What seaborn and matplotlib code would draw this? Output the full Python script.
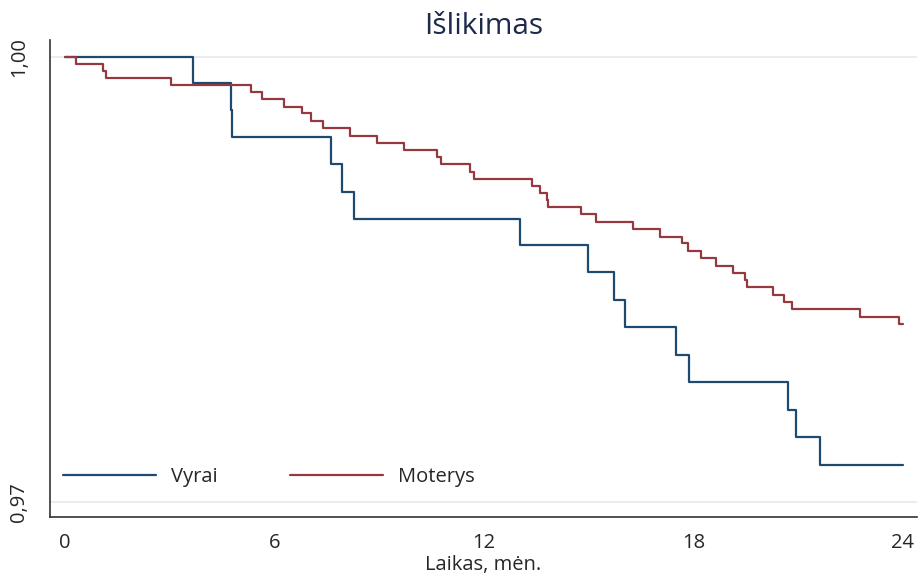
import matplotlib
matplotlib.use("Agg")
import matplotlib.pyplot as plt
import seaborn as sns
import pandas as pd
from matplotlib import font_manager

# ---- data ----
vyrai_t = [0, 3.68, 4.75, 4.79, 7.62, 7.95, 8.28, 13.04, 14.98, 15.72, 16.05,
           17.51, 17.89, 20.71, 20.95, 21.63, 24]
vyrai_s = [1.0, 0.9982, 0.9964, 0.9946, 0.9928, 0.9909, 0.9891, 0.9873, 0.9855,
           0.9836, 0.9818, 0.9799, 0.9781, 0.9762, 0.9744, 0.9725, 0.9725]

moterys_t = [0, 0.31, 1.08, 1.17, 3.03, 5.33, 5.65, 6.26, 6.78, 7.04, 7.39, 8.16,
             8.95, 9.70, 10.67, 10.77, 11.60, 11.72, 13.37, 13.61, 13.80, 13.85,
             14.79, 15.20, 16.28, 17.04, 17.69, 17.85, 18.22, 18.64, 19.13, 19.48,
             19.53, 20.27, 20.60, 20.82, 22.79, 23.88, 24]
moterys_s = [1.0, 0.99953, 0.99904, 0.99857, 0.99809, 0.99762, 0.99713, 0.99663,
             0.99619, 0.99570, 0.99520, 0.99469, 0.99420, 0.99372, 0.99325, 0.99276,
             0.99226, 0.99179, 0.99129, 0.99080, 0.99035, 0.98986, 0.98938, 0.98885,
             0.98837, 0.98788, 0.98744, 0.98690, 0.98643, 0.98593, 0.98546, 0.98497,
             0.98449, 0.98398, 0.98350, 0.98299, 0.98250, 0.98202, 0.98202]

groups = ["Vyrai", "Moterys"]
colors = {"Vyrai": "#1f4a70", "Moterys": "#94393f"}
x_ticks = [0, 6, 12, 18, 24]
y_ticks = [0.97, 1.00]
y_ticklabels = ["0,97", "1,00"]
title = "Išlikimas"
xlabel = "Laikas, mėn."

df = pd.concat([
    pd.DataFrame({"t": vyrai_t, "S": vyrai_s, "grupe": "Vyrai"}),
    pd.DataFrame({"t": moterys_t, "S": moterys_s, "grupe": "Moterys"}),
], ignore_index=True)

# ---- style ----
sns.set_style("white")
names = {f.name for f in font_manager.fontManager.ttflist}
narrow = "Liberation Sans Narrow" if "Liberation Sans Narrow" in names else "Open Sans"
plt.rcParams["font.family"] = [narrow, "DejaVu Sans"]
fs = 14.5 if narrow == "Open Sans" else 15.5

fig = plt.figure(figsize=(9.21, 5.8), dpi=100)
ax = fig.add_axes([50 / 921, 1 - 517.3 / 580, (917 - 50) / 921, (517.3 - 40) / 580])

sns.lineplot(data=df, x="t", y="S", hue="grupe", hue_order=groups, palette=colors,
             drawstyle="steps-post", estimator=None, sort=False, linewidth=1.6,
             ax=ax, legend=True)

ax.set_xlim(-0.43, 24.41)
ax.set_ylim(0.96899, 1.00112)

for yv in y_ticks:
    ax.axhline(yv, color="#e4eaec", linewidth=1.2, zorder=0)

ax.set_xticks(x_ticks)
ax.set_xticklabels([str(v) for v in x_ticks], fontsize=fs)
ax.set_yticks(y_ticks)
ax.set_yticklabels(y_ticklabels, fontsize=fs, rotation=90, va="center")
ax.tick_params(axis="x", direction="out", length=6.5, width=1.0, color="#333333", pad=5)
ax.tick_params(axis="y", direction="out", length=7.2, width=1.0, color="#333333", pad=8)

for s in ["top", "right"]:
    ax.spines[s].set_visible(False)
for s in ["left", "bottom"]:
    ax.spines[s].set_color("#333333")
    ax.spines[s].set_linewidth(1.2)

ax.set_xlabel(xlabel, fontsize=fs, labelpad=1)
ax.set_ylabel("")
ax.set_title(title, fontsize=21.5, color="#1e2a4a", pad=4,
             family=["Open Sans", "DejaVu Sans"])

handles, labels = ax.get_legend_handles_labels()
ax.legend(handles, labels, loc="center left", bbox_to_anchor=(0.015, 0.085),
          frameon=False, ncol=2, fontsize=fs, handlelength=4.6,
          handletextpad=0.75, columnspacing=3.6, borderpad=0, borderaxespad=0)

fig.savefig("out.png", dpi=100)
